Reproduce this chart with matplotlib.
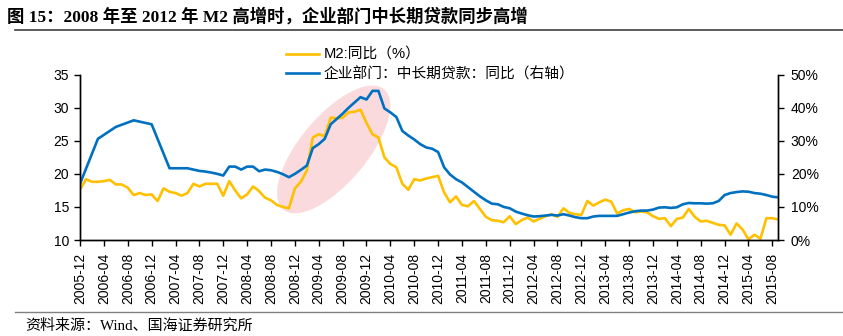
import numpy as np
import pandas as pd
import matplotlib
matplotlib.use('Agg')
import matplotlib.pyplot as plt
from matplotlib.patches import Ellipse
from matplotlib.lines import Line2D
from matplotlib.transforms import ScaledTranslation

plt.rcParams['font.family'] = ['Liberation Sans', 'Noto Sans CJK SC']
plt.rcParams['axes.unicode_minus'] = False

# Monthly observations, 2005-12 .. 2015-09
months = pd.period_range('2005-12', '2015-09', freq='M')

# M2 year-on-year growth (%), left axis
m2_yoy = [
    17.6,
    19.2, 18.8, 18.8, 18.9, 19.1, 18.4, 18.4, 17.9, 16.8, 17.1, 16.8, 16.9,
    15.9, 17.8, 17.3, 17.1, 16.7, 17.1, 18.5, 18.1, 18.5, 18.5, 18.5, 16.7,
    18.9, 17.5, 16.3, 16.9, 18.1, 17.4, 16.4, 16.0, 15.3, 15.0, 14.8, 17.8,
    18.8, 20.5, 25.5, 26.0, 25.7, 28.5, 28.4, 28.5, 29.3, 29.4, 29.7, 27.7,
    26.0, 25.5, 22.5, 21.5, 21.0, 18.5, 17.6, 19.2, 19.0, 19.3, 19.5, 19.7,
    17.2, 15.7, 16.6, 15.3, 15.1, 15.9, 14.7, 13.5, 13.0, 12.9, 12.7, 13.6,
    12.4, 13.0, 13.4, 12.8, 13.2, 13.6, 13.9, 13.5, 14.8, 14.1, 13.9, 13.8,
    15.9, 15.2, 15.7, 16.1, 15.8, 14.0, 14.5, 14.7, 14.2, 14.3, 14.2, 13.6,
    13.2, 13.3, 12.1, 13.2, 13.4, 14.7, 13.5, 12.8, 12.9, 12.6, 12.3, 12.2,
    10.8, 12.5, 11.6, 10.1, 10.8, 10.2, 13.3, 13.3, 13.1,
]

# Corporate medium/long-term loans yoy (%), right axis; quarterly until mid-2007
loan_yoy = [
    17.0,
    None, None, 30.6, None, None, 34.2, None, None, 36.2, None, None, 35.0,
    None, None, 21.7, None, None, 21.7, 21.3, 20.9, 20.7, 20.4, 20.0, 19.5,
    22.2, 22.2, 21.3, 22.2, 22.2, 20.8, 21.3, 21.1, 20.6, 19.9, 19.0, 20.0,
    21.2, 22.5, 27.8, 29.0, 30.6, 35.0, 36.6, 38.2, 40.0, 41.6, 43.2, 42.5,
    45.1, 45.1, 39.8, 38.6, 37.2, 33.0, 31.6, 30.4, 29.0, 28.0, 27.6, 26.6,
    22.0, 19.8, 18.4, 17.4, 16.0, 14.6, 13.2, 12.0, 11.0, 10.8, 10.0, 9.6,
    8.6, 8.0, 7.5, 7.1, 7.2, 7.4, 7.6, 7.4, 7.8, 7.4, 6.9, 6.6,
    6.6, 7.1, 7.3, 7.3, 7.3, 7.3, 7.8, 8.3, 8.7, 8.9, 8.9, 9.2,
    9.8, 9.9, 9.7, 9.9, 10.8, 11.2, 11.1, 11.1, 11.0, 11.1, 11.8, 13.6,
    14.2, 14.5, 14.7, 14.6, 14.2, 14.0, 13.6, 13.1, 12.9,
]

m2_label = 'M2:同比（%）'
loan_label = '企业部门：中长期贷款：同比（右轴）'
tick_labels = [str(p) for p in months[::4]]

x = np.arange(len(months))
loans = pd.Series(loan_yoy, index=x, dtype=float).dropna()

fig = plt.figure(figsize=(8.43, 3.36), dpi=100)
ax = fig.add_axes([0.0949, 0.2857, 0.9233 - 0.0949, 0.7777 - 0.2857])
ax2 = ax.twinx()

# highlighted 2009 surge
hl = Ellipse((0, 0), width=1.57, height=0.67, angle=50,
             facecolor='#FADADD', edgecolor='none', zorder=0,
             transform=fig.dpi_scale_trans + ScaledTranslation(42.5, 23.7, ax.transData))
ax.add_patch(hl)

l1, = ax.plot(x, m2_yoy, color='#FFC000', lw=1.9, zorder=2)
l2, = ax2.plot(loans.index, loans.values, color='#0070C0', lw=1.9, zorder=2)

ax.set_xlim(0, len(months) - 1)
ax.set_ylim(10, 35)
ax.set_yticks(np.arange(10, 36, 5))
ax2.set_ylim(0, 50)
ax2.set_yticks(np.arange(0, 51, 10))
ax2.set_yticklabels([f'{v}%' for v in range(0, 51, 10)])

ax.set_xticks(x[::4])
ax.set_xticklabels(tick_labels, rotation=90)

for a in (ax, ax2):
    a.spines['top'].set_visible(False)
    for s in ('left', 'right', 'bottom'):
        a.spines[s].set_linewidth(1.0)
        a.spines[s].set_color('black')
ax.tick_params(axis='both', labelsize=10, length=4, width=1, pad=4, direction='out')
ax.tick_params(axis='x', pad=5)
ax2.tick_params(axis='y', labelsize=10, length=4, width=1, pad=5, direction='out')

fig.legend([l1, l2], [m2_label, loan_label], loc='upper left',
           bbox_to_anchor=(0.323, 0.897), frameon=False, fontsize=10.6,
           handlelength=2.3, handletextpad=0.3, labelspacing=0.35)

# title, rules and source note
fig.text(0.008, 0.935, '图 15：2008 年至 2012 年 M2 高增时，企业部门中长期贷款同步高增',
         fontsize=12.5, fontweight='bold', family=['Liberation Serif', 'Noto Sans CJK SC'],
         va='baseline')
fig.add_artist(Line2D([0.018, 1.0], [0.911, 0.911], color='#404040', lw=1.2))
fig.add_artist(Line2D([0.018, 1.0], [0.072, 0.072], color='#808080', lw=1.0))
fig.text(0.03, 0.02, '资料来源：Wind、国海证券研究所', fontsize=10.8,
         family=['Liberation Serif', 'Noto Sans CJK SC'], va='baseline')

fig.savefig('out.png', dpi=100)
